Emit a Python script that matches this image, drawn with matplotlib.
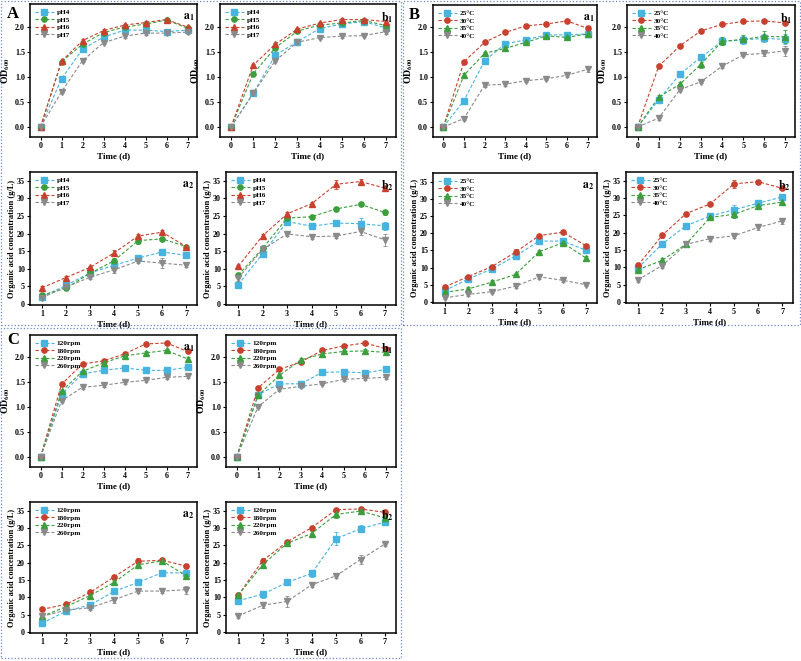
import matplotlib.pyplot as plt
from matplotlib.lines import Line2D
from matplotlib.patches import Rectangle

plt.rcParams['font.family'] = ['Liberation Serif', 'DejaVu Serif']
plt.rcParams['font.weight'] = 'bold'
plt.rcParams['mathtext.fontset'] = 'stix'

DAYS_OD = [0, 1, 2, 3, 4, 5, 6, 7]
DAYS_ACID = [1, 2, 3, 4, 5, 6, 7]

PH_LABELS = ['pH4', 'pH5', 'pH6', 'pH7']
TEMP_LABELS = ['25°C', '30°C', '35°C', '40°C']
RPM_LABELS = ['120rpm', '180rpm', '220rpm', '260rpm']

# panel A: pH
A_A1_OD = [[0, 0.96, 1.55, 1.79, 1.93, 1.93, 1.90, 1.93],
           [0, 1.30, 1.65, 1.88, 1.99, 2.05, 2.13, 1.97],
           [0, 1.31, 1.72, 1.92, 2.03, 2.08, 2.14, 1.99],
           [0, 0.70, 1.32, 1.68, 1.81, 1.87, 1.87, 1.89]]
A_A1_ERR = [[0, 0.04, 0.03, 0.03, 0.03, 0.03, 0.03, 0.03],
            [0, 0.03, 0.03, 0.03, 0.03, 0.03, 0.03, 0.05],
            [0, 0.03, 0.03, 0.03, 0.03, 0.03, 0.03, 0.03],
            [0, 0.03, 0.03, 0.03, 0.03, 0.03, 0.03, 0.04]]
A_B1_OD = [[0, 0.67, 1.43, 1.70, 1.96, 2.05, 2.10, 1.97],
           [0, 1.06, 1.58, 1.91, 2.03, 2.07, 2.12, 2.02],
           [0, 1.23, 1.65, 1.95, 2.07, 2.14, 2.14, 2.10],
           [0, 0.67, 1.32, 1.69, 1.78, 1.81, 1.82, 1.90]]
A_B1_ERR = [[0, 0.03, 0.03, 0.03, 0.03, 0.03, 0.03, 0.04],
            [0, 0.03, 0.03, 0.03, 0.03, 0.03, 0.03, 0.03],
            [0, 0.03, 0.03, 0.03, 0.03, 0.03, 0.03, 0.03],
            [0, 0.03, 0.03, 0.03, 0.03, 0.03, 0.03, 0.04]]
A_A2_ACID = [[2.0, 5.3, 8.8, 11.0, 13.0, 14.8, 13.8],
             [2.5, 4.5, 8.7, 12.3, 18.0, 18.5, 16.3],
             [4.6, 7.5, 10.4, 14.5, 19.3, 20.4, 16.3],
             [1.8, 4.8, 7.6, 9.7, 12.2, 11.6, 11.0]]
A_A2_ERR = [[0.4, 0.4, 0.4, 0.6, 0.5, 0.6, 0.5],
            [0.4, 0.5, 0.6, 0.9, 1.0, 0.6, 0.5],
            [0.4, 0.5, 0.5, 0.8, 0.6, 0.6, 0.5],
            [0.4, 0.5, 0.6, 0.9, 0.7, 1.5, 0.5]]
A_B2_ACID = [[5.5, 14.3, 23.4, 22.1, 23.0, 22.8, 22.2],
             [8.2, 15.8, 24.4, 24.8, 27.0, 28.3, 26.0],
             [10.7, 19.4, 25.6, 28.5, 34.0, 34.8, 32.9],
             [7.4, 15.5, 19.9, 19.1, 19.3, 20.6, 18.2]]
A_B2_ERR = [[0.5, 0.6, 0.7, 0.6, 0.6, 1.5, 1.2],
            [0.5, 0.5, 0.6, 0.6, 0.6, 0.6, 0.6],
            [0.5, 0.6, 0.6, 0.6, 1.2, 0.6, 0.6],
            [0.8, 0.8, 0.6, 0.6, 0.6, 0.9, 1.8]]

# panel B: temperature
B_A1_OD = [[0, 0.53, 1.33, 1.67, 1.75, 1.85, 1.85, 1.87],
           [0, 1.31, 1.70, 1.90, 2.03, 2.07, 2.13, 1.98],
           [0, 1.04, 1.48, 1.58, 1.70, 1.83, 1.80, 1.87],
           [0, 0.17, 0.84, 0.86, 0.93, 0.97, 1.04, 1.16]]
B_A1_ERR = [[0, 0.03, 0.04, 0.03, 0.03, 0.03, 0.03, 0.03],
            [0, 0.03, 0.03, 0.03, 0.03, 0.03, 0.03, 0.04],
            [0, 0.04, 0.03, 0.03, 0.03, 0.03, 0.03, 0.03],
            [0, 0.03, 0.03, 0.04, 0.03, 0.03, 0.03, 0.06]]
B_B1_OD = [[0, 0.55, 1.06, 1.40, 1.72, 1.75, 1.78, 1.76],
           [0, 1.22, 1.63, 1.93, 2.06, 2.12, 2.13, 2.09],
           [0, 0.60, 0.86, 1.26, 1.72, 1.76, 1.82, 1.81],
           [0, 0.18, 0.75, 0.91, 1.22, 1.45, 1.48, 1.53]]
B_B1_ERR = [[0, 0.03, 0.03, 0.03, 0.08, 0.08, 0.08, 0.10],
            [0, 0.03, 0.03, 0.03, 0.03, 0.03, 0.03, 0.03],
            [0, 0.04, 0.05, 0.08, 0.08, 0.08, 0.10, 0.13],
            [0, 0.03, 0.03, 0.03, 0.03, 0.03, 0.05, 0.10]]
B_A2_ACID = [[3.3, 6.7, 9.6, 13.4, 17.7, 17.7, 15.0],
             [4.4, 7.4, 10.3, 14.5, 19.3, 20.3, 16.3],
             [2.8, 3.8, 5.8, 8.0, 14.6, 17.2, 12.7],
             [1.2, 2.2, 3.0, 4.6, 7.3, 6.3, 5.0]]
B_A2_ERR = [[0.4, 0.4, 0.5, 0.5, 0.7, 0.8, 0.6],
            [0.4, 0.5, 0.5, 0.8, 0.6, 0.5, 0.6],
            [0.5, 0.5, 0.7, 0.5, 0.6, 0.6, 0.8],
            [0.4, 0.5, 0.5, 0.5, 0.5, 0.5, 0.5]]
B_B2_ACID = [[9.8, 16.7, 22.0, 24.8, 26.6, 28.5, 30.3],
             [10.6, 19.2, 25.5, 28.3, 34.1, 34.7, 32.8],
             [9.3, 12.0, 16.7, 24.4, 25.3, 27.8, 28.8],
             [6.4, 10.5, 16.6, 18.3, 19.1, 21.5, 23.4]]
B_B2_ERR = [[0.5, 0.6, 0.6, 0.6, 1.3, 0.7, 0.8],
            [0.5, 0.6, 0.6, 0.6, 1.2, 0.6, 0.6],
            [0.5, 0.7, 0.6, 0.6, 1.0, 0.7, 0.8],
            [0.5, 0.6, 0.6, 0.6, 0.6, 0.7, 0.8]]

# panel C: shaking speed
C_A1_OD = [[0, 1.26, 1.67, 1.74, 1.79, 1.74, 1.74, 1.80],
           [0, 1.46, 1.87, 1.93, 2.07, 2.27, 2.29, 2.12],
           [0, 1.32, 1.72, 1.89, 2.03, 2.09, 2.14, 1.97],
           [0, 1.13, 1.40, 1.44, 1.50, 1.54, 1.60, 1.62]]
C_A1_ERR = [[0, 0.03, 0.03, 0.03, 0.03, 0.03, 0.03, 0.03],
            [0, 0.03, 0.03, 0.03, 0.03, 0.03, 0.03, 0.04],
            [0, 0.03, 0.03, 0.03, 0.03, 0.03, 0.03, 0.04],
            [0, 0.03, 0.03, 0.03, 0.03, 0.03, 0.03, 0.03]]
C_B1_OD = [[0, 1.25, 1.47, 1.47, 1.70, 1.71, 1.69, 1.76],
           [0, 1.39, 1.76, 1.91, 2.14, 2.23, 2.29, 2.17],
           [0, 1.24, 1.64, 1.95, 2.07, 2.12, 2.13, 2.10],
           [0, 1.01, 1.36, 1.42, 1.47, 1.56, 1.58, 1.60]]
C_B1_ERR = [[0, 0.03, 0.03, 0.03, 0.03, 0.06, 0.03, 0.03],
            [0, 0.03, 0.03, 0.03, 0.03, 0.03, 0.03, 0.03],
            [0, 0.03, 0.03, 0.03, 0.03, 0.03, 0.03, 0.03],
            [0, 0.03, 0.03, 0.03, 0.03, 0.03, 0.03, 0.03]]
C_A2_ACID = [[2.5, 6.0, 7.8, 11.7, 14.3, 17.1, 17.0],
             [6.5, 8.0, 11.4, 15.9, 20.4, 20.7, 19.0],
             [4.5, 7.3, 10.5, 14.3, 19.4, 20.5, 16.2],
             [4.5, 6.3, 7.0, 9.3, 11.8, 11.8, 12.2]]
C_A2_ERR = [[0.5, 0.5, 0.5, 0.6, 0.6, 0.6, 0.6],
            [0.5, 0.5, 0.6, 0.6, 0.8, 0.6, 0.6],
            [0.5, 0.5, 0.6, 0.8, 0.7, 0.6, 0.6],
            [0.6, 0.6, 0.7, 0.9, 0.6, 0.6, 1.2]]
C_B2_ACID = [[9.0, 10.9, 14.3, 16.9, 26.9, 29.8, 31.7],
             [10.6, 20.6, 26.0, 30.1, 35.3, 35.5, 34.5],
             [10.6, 19.4, 25.6, 28.4, 33.9, 34.9, 32.9],
             [4.6, 7.7, 8.8, 13.6, 16.2, 20.9, 25.4]]
C_B2_ERR = [[0.6, 1.0, 0.5, 1.0, 1.8, 1.1, 0.8],
            [0.5, 0.6, 0.6, 0.6, 0.6, 0.6, 0.6],
            [0.5, 0.6, 0.6, 0.6, 1.0, 0.6, 0.6],
            [0.7, 0.7, 1.5, 0.7, 0.6, 1.2, 0.6]]

BLUE, RED, GREEN, GRAY = '#46B4DF', '#C8412F', '#3C9E3C', '#8A8A8A'
MARKERS = ['s', 'o', '^', 'v']
COLORS_A = [BLUE, GREEN, RED, GRAY]
COLORS_BC = [BLUE, RED, GREEN, GRAY]

W, H = 801, 661
fig = plt.figure(figsize=(W / 100, H / 100), dpi=100)


def px_axes(left, right, top, bottom):
    return fig.add_axes([left / W, 1 - bottom / H, (right - left) / W, (bottom - top) / H])


def draw(box, x, vals, errs, labels, colors, kind, sub):
    ax = px_axes(*box)
    handles = []
    for v, e, lab, c, m in zip(vals, errs, labels, colors, MARKERS):
        ax.errorbar(x, v, yerr=e, color=c, marker=m, markersize=3.8, markeredgecolor=c,
                    linestyle='--', linewidth=0.8, elinewidth=0.6, capsize=1.3, capthick=0.6,
                    dashes=(3, 1.8))
        handles.append(Line2D([], [], color=c, marker=m, markersize=3.8, linestyle='--',
                              linewidth=0.8, dashes=(3, 1.8), label=lab))
    if kind == 'od':
        ax.set_xlim(-0.5, 7.45)
        ax.set_ylim(-0.2, 2.45)
        ax.set_yticks([0.0, 0.5, 1.0, 1.5, 2.0])
        ax.set_yticklabels(['0.0', '0.5', '1.0', '1.5', '2.0'])
        ax.set_ylabel(r'OD$_{\mathbf{600}}$', fontsize=7, fontweight='bold', labelpad=2)
    else:
        ax.set_xlim(0.5, 7.45)
        ax.set_ylim(-0.3, 37.5)
        ax.set_yticks(range(0, 36, 5))
        ax.set_ylabel('Organic acid concentration (g/L)', fontsize=6, fontweight='bold', labelpad=1)
    ax.set_xticks(x)
    ax.set_xlabel('Time (d)', fontsize=6.5, fontweight='bold', labelpad=2)
    ax.tick_params(labelsize=5.8, length=2, width=0.8, pad=1.5)
    for lbl in ax.get_xticklabels() + ax.get_yticklabels():
        lbl.set_fontweight('bold')
    for s in ax.spines.values():
        s.set_linewidth(1.1)
    ax.legend(handles=handles, loc='upper left', frameon=False, fontsize=5.2, handlelength=2.6,
              labelspacing=0.2, handletextpad=0.4, borderaxespad=0.3)
    ax.text(0.985, 0.95, sub, transform=ax.transAxes, ha='right', va='top', fontsize=8.5)
    return ax


SUB_A1 = r'$\mathbf{a}_\mathbf{1}$'
SUB_B1 = r'$\mathbf{b}_\mathbf{1}$'
SUB_A2 = r'$\mathbf{a}_\mathbf{2}$'
SUB_B2 = r'$\mathbf{b}_\mathbf{2}$'

draw((30, 197, 4, 137), DAYS_OD, A_A1_OD, A_A1_ERR, PH_LABELS, COLORS_A, 'od', SUB_A1)
draw((220, 396, 4, 137), DAYS_OD, A_B1_OD, A_B1_ERR, PH_LABELS, COLORS_A, 'od', SUB_B1)
draw((30, 197, 172, 305), DAYS_ACID, A_A2_ACID, A_A2_ERR, PH_LABELS, COLORS_A, 'acid', SUB_A2)
draw((226, 396, 172, 305), DAYS_ACID, A_B2_ACID, A_B2_ERR, PH_LABELS, COLORS_A, 'acid', SUB_B2)

draw((433, 597, 5, 137), DAYS_OD, B_A1_OD, B_A1_ERR, TEMP_LABELS, COLORS_BC, 'od', SUB_A1)
draw((627, 795, 5, 137), DAYS_OD, B_B1_OD, B_B1_ERR, TEMP_LABELS, COLORS_BC, 'od', SUB_B1)
draw((433, 597, 173, 303), DAYS_ACID, B_A2_ACID, B_A2_ERR, TEMP_LABELS, COLORS_BC, 'acid', SUB_A2)
draw((626, 793, 172, 303), DAYS_ACID, B_B2_ACID, B_B2_ERR, TEMP_LABELS, COLORS_BC, 'acid', SUB_B2)

draw((30, 197, 335, 467), DAYS_OD, C_A1_OD, C_A1_ERR, RPM_LABELS, COLORS_BC, 'od', SUB_A1)
draw((226, 396, 335, 467), DAYS_OD, C_B1_OD, C_B1_ERR, RPM_LABELS, COLORS_BC, 'od', SUB_B1)
draw((30, 197, 502, 633), DAYS_ACID, C_A2_ACID, C_A2_ERR, RPM_LABELS, COLORS_BC, 'acid', SUB_A2)
draw((226, 396, 502, 633), DAYS_ACID, C_B2_ACID, C_B2_ERR, RPM_LABELS, COLORS_BC, 'acid', SUB_B2)

# dotted panel frames
for x0, y0, x1, y1 in [(1, 1, 401, 325), (403, 1, 800, 325), (1, 328, 401, 658)]:
    fig.add_artist(Rectangle((x0 / W, 1 - y1 / H), (x1 - x0) / W, (y1 - y0) / H,
                             transform=fig.transFigure, fill=False, edgecolor='#6F86C4',
                             linestyle=':', linewidth=0.9))

fig.text(13 / W, 1 - 14 / H, 'A', fontsize=12, ha='center', va='center')
fig.text(414 / W, 1 - 15 / H, 'B', fontsize=12, ha='center', va='center')
fig.text(13 / W, 1 - 340 / H, 'C', fontsize=12, ha='center', va='center')

fig.savefig('out.png', dpi=100)
